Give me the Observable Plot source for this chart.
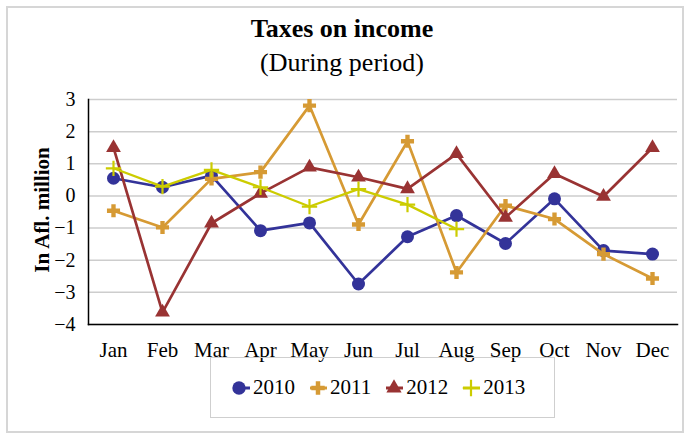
<!DOCTYPE html>
<html>
<head>
<meta charset="utf-8">
<script src="https://cdn.jsdelivr.net/npm/d3@7"></script>
<script src="https://cdn.jsdelivr.net/npm/@observablehq/plot@0.6"></script>
<style>
  html, body { margin: 0; padding: 0; background: #fff; }
  #wrap { position: relative; width: 684px; height: 434px; overflow: hidden; font-family: "Liberation Serif", "Times New Roman", serif; }
  #frame { position: absolute; left: 6px; top: 6px; width: 674px; height: 423px; border: 2px solid #d6d6d6; }
  #chart { position: absolute; left: 0; top: 0; }
  .title { position: absolute; left: 0; width: 684px; text-align: center; color: #000; line-height: 1; }
  #t1 { top: 16px; font-size: 26px; font-weight: bold; }
  #t2 { top: 50px; font-size: 26px; }
  #ylab { position: absolute; left: 42px; top: 210px; transform: translate(-50%, -50%) rotate(-90deg); font-size: 21px; font-weight: bold; white-space: nowrap; }
  #legend { position: absolute; left: 210px; top: 357px; width: 345px; height: 61px; border: 1.5px solid #cfcfcf; display: flex; align-items: center; justify-content: flex-start; font-size: 21px; padding-left: 13px; box-sizing: border-box; }
  .item { display: flex; align-items: center; margin: 0 6px; }
  .item svg { margin-right: 1px; }
</style>
</head>
<body>
<div id="wrap">
  <div id="frame"></div>
  <div id="chart"></div>
  <div class="title" id="t1">Taxes on income</div>
  <div class="title" id="t2">(During period)</div>
  <div id="ylab">In Afl. million</div>
  <div id="legend"></div>
</div>
<script>
const months = ["Jan","Feb","Mar","Apr","May","Jun","Jul","Aug","Sep","Oct","Nov","Dec"];
const yTicks = [-4,-3,-2,-1,0,1,2,3];
const v2010 = [0.55, 0.27, 0.63, -1.08, -0.84, -2.74, -1.27, -0.61, -1.48, -0.09, -1.70, -1.81];
const v2011 = [-0.46, -0.98, 0.53, 0.74, 2.81, -0.89, 1.70, -2.38, -0.30, -0.72, -1.81, -2.57];
const v2012 = [1.50, -3.62, -0.85, 0.08, 0.89, 0.58, 0.22, 1.31, -0.67, 0.69, -0.02, 1.50];
const v2013 = [0.86, 0.29, 0.81, 0.27, -0.33, 0.21, -0.27, -1.03];

const seriesNames = ["2010","2011","2012","2013"];
const seriesValues = [v2010, v2011, v2012, v2013];
const colors = {"2010": "#333399", "2011": "#d69a34", "2012": "#993333", "2013": "#cccc00"};
const symbols = {"2010": "circle", "2011": "cross", "2012": "triangle", "2013": "plus"};

const marks = [
  Plot.gridY(yTicks, {stroke: "#cdcdcd", strokeOpacity: 1, strokeWidth: 1.5})
];

seriesNames.forEach((name, i) => {
  const rows = seriesValues[i].map((v, j) => ({month: months[j], value: v}));
  marks.push(Plot.line(rows, {x: "month", y: "value", stroke: colors[name], strokeWidth: name === "2013" ? 2.3 : 2.7}));
  if (symbols[name] === "plus") {
    marks.push(Plot.dot(rows, {x: "month", y: "value", symbol: "plus", r: 5, stroke: colors[name], strokeWidth: 2.2, fill: "none"}));
  } else {
    marks.push(Plot.dot(rows, {x: "month", y: "value", symbol: symbols[name], r: symbols[name] === "circle" ? 6.5 : 5.5, fill: colors[name], stroke: "none"}));
  }
});

marks.push(Plot.axisY(yTicks, {tickSize: 0, tickPadding: 13, fontSize: 20, fill: "#000"}));
marks.push(Plot.axisX({tickSize: 0, tickPadding: 18, fontSize: 21, fill: "#000"}));
marks.push(Plot.frame({anchor: "left", stroke: "#000", strokeWidth: 1.5}));
marks.push(Plot.frame({anchor: "bottom", stroke: "#000", strokeWidth: 1.5}));

const chart = Plot.plot({
  width: 684,
  height: 434,
  marginLeft: 88,
  marginRight: 7,
  marginTop: 99,
  marginBottom: 110,
  style: {fontFamily: "'Liberation Serif', 'Times New Roman', serif", background: "transparent", overflow: "visible"},
  x: {type: "point", domain: months, padding: 0.5, label: null},
  y: {domain: [-4, 3], label: null},
  marks
});
document.getElementById("chart").appendChild(chart);

// Legend
const legend = document.getElementById("legend");
seriesNames.forEach(name => {
  const item = document.createElement("div");
  item.className = "item";
  const svg = d3.create("svg").attr("width", 22).attr("height", 20);
  svg.append("line").attr("x1", 3).attr("x2", 20).attr("y1", 10).attr("y2", 10)
     .attr("stroke", colors[name]).attr("stroke-width", 3);
  const sym = {circle: d3.symbolCircle, cross: d3.symbolCross, triangle: d3.symbolTriangle, plus: d3.symbolPlus}[symbols[name]];
  const size = symbols[name] === "circle" ? 140 : symbols[name] === "plus" ? 90 : 100;
  const cx = symbols[name] === "circle" ? 9 : 11;
  const p = svg.append("path").attr("transform", `translate(${cx},10)`).attr("d", d3.symbol(sym, size)());
  if (symbols[name] === "plus") p.attr("fill", "none").attr("stroke", colors[name]).attr("stroke-width", 2.2);
  else p.attr("fill", colors[name]);
  item.appendChild(svg.node());
  const t = document.createElement("span");
  t.textContent = name;
  item.appendChild(t);
  legend.appendChild(item);
});
</script>
</body>
</html>
